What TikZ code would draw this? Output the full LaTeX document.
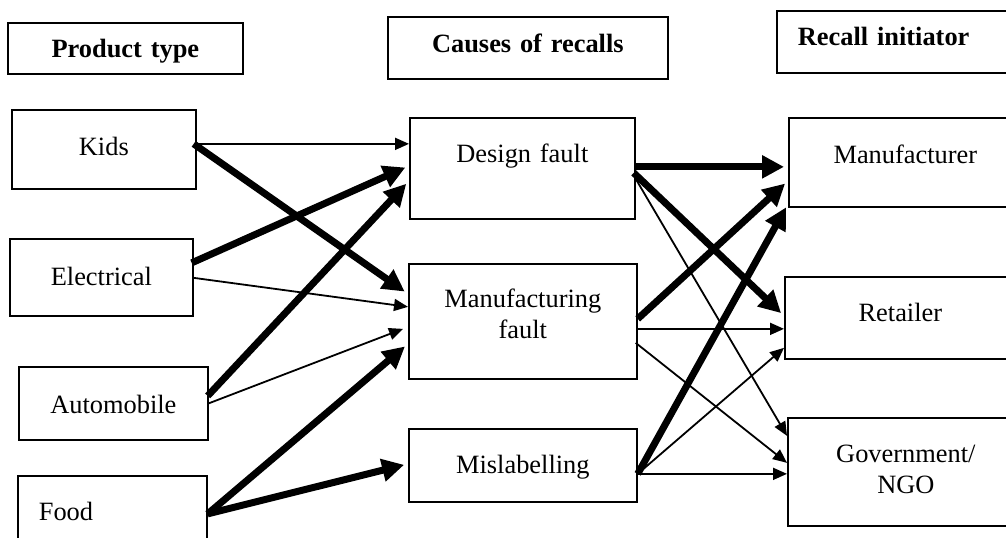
\documentclass[tikz,border=0pt]{standalone}
\usepackage{fontspec}
\setmainfont{Liberation Serif}
\usetikzlibrary{arrows.meta,calc}

\begin{document}
\begin{tikzpicture}[x=0.5pt,y=-0.5pt,
	font=\fontsize{13.2}{15.5}\selectfont,
	box/.style n args={3}{draw, line width=0.85pt, anchor=north west, inner sep=0pt,
		align=center, text width=#1, text height=#2, text depth=#3},
	leftbox/.style={align=left, inner xsep=10.5pt},
	thinarrow/.style={line width=0.9pt, -{Triangle[length=7pt,width=6pt]}},
	thickarrow/.style={line width=3.5pt, -{Triangle[length=11pt,width=11pt]}, shorten >=2pt}]
	  \useasboundingbox (0,0) rectangle (1006,537);   % page size

	  % column headings
	  \node[box={117.5pt}{17.5pt}{8pt}] (ptype) at (7,22) {\bfseries Product type};
	  \node[box={140pt}{18pt}{13pt}] (causes) at (387,16) {\bfseries Causes of recalls};
	  \node[box={144pt}{17.5pt}{13.5pt}, leftbox] (initiator) at (776,10) {\bfseries Recall initiator};

	  % product types
	  \node[box={92pt}{23pt}{16.5pt}] (kids) at (11,109) {Kids};
	  \node[box={91.5pt}{23.5pt}{15pt}] (elec) at (9,238) {Electrical};
	  \node[box={94.5pt}{23.5pt}{13pt}] (auto) at (18,366) {Automobile};
	  \node[box={73.5pt}{22.5pt}{17pt}, leftbox] (food) at (17,475) {Food};

	  % causes
	  \node[box={112.5pt}{22.5pt}{28pt}] (dfault) at (409,117) {Design fault};
	  \node[box={114pt}{22pt}{35.5pt}] (mfault) at (408,263) {Manufacturing\\fault};
	  \node[box={114pt}{22.5pt}{14pt}] (misl) at (408,428) {Mislabelling};

	  % initiators
	  \node[box={116.5pt}{23pt}{21.5pt}] (mfr) at (788,117) {Manufacturer};
	  \node[box={115.5pt}{22.5pt}{18.5pt}] (ret) at (784,276) {Retailer};
	  \node[box={118pt}{22.5pt}{31.5pt}] (gov) at (787,417) {Government/\\NGO};

	  % product type -> cause
	  \draw[thinarrow] ($(kids.east)+(0,-5.5)$) -- ($(dfault.west)+(0,-24.5)$);
	  \draw[thickarrow] ($(kids.east)+(-3,-5.5)$) -- ($(mfault.west)+(0,-27.5)$);
	  \draw[thickarrow] ($(elec.east)+(-2,-14.5)$) -- ($(dfault.west)+(0,-2.5)$);
	  \draw[thinarrow] ($(elec.east)+(0,0.5)$) -- ($(mfault.west)+(0,-14.5)$);
	  \draw[thickarrow] ($(auto.east)+(-1,-7.5)$) -- ($(dfault.west)+(0,12.5)$);
	  \draw[thinarrow] (auto.east) -- ($(mfault.west)+(-5,7.5)$);
	  \draw[thickarrow] ($(food.east)+(0,-1.5)$) -- ($(mfault.west)+(0,22.5)$);
	  \draw[thickarrow] ($(food.east)+(0,-1.5)$) -- ($(misl.west)+(0,-1.5)$);

	  % cause -> initiator
	  \draw[thickarrow] ($(dfault.east)+(0,-1.5)$) -- ($(mfr.west)+(0,4.5)$);
	  \draw[thickarrow] ($(dfault.east)+(-2,4.5)$) -- ($(ret.west)+(0,-2)$);
	  \draw[thinarrow] ($(dfault.east)+(0,10.5)$) -- ($(gov.west)+(0,-36)$);
	  \draw[thickarrow] ($(mfault.east)+(0,-2.5)$) -- ($(mfr.west)+(0,18.5)$);
	  \draw[thinarrow] ($(mfault.east)+(0,7.5)$) -- ($(ret.west)+(0,11)$);
	  \draw[thinarrow] ($(mfault.east)+(-2,21.5)$) -- ($(gov.west)+(0,-9)$);
	  \draw[thickarrow] ($(misl.east)+(0,8.5)$) -- ($(mfr.west)+(0,41.5)$);
	  \draw[thinarrow] ($(misl.east)+(0,8.5)$) -- ($(ret.west)+(0,30)$);
	  \draw[thinarrow] ($(misl.east)+(0,8.5)$) -- ($(gov.west)+(0,2)$);

\end{tikzpicture}
\end{document}
